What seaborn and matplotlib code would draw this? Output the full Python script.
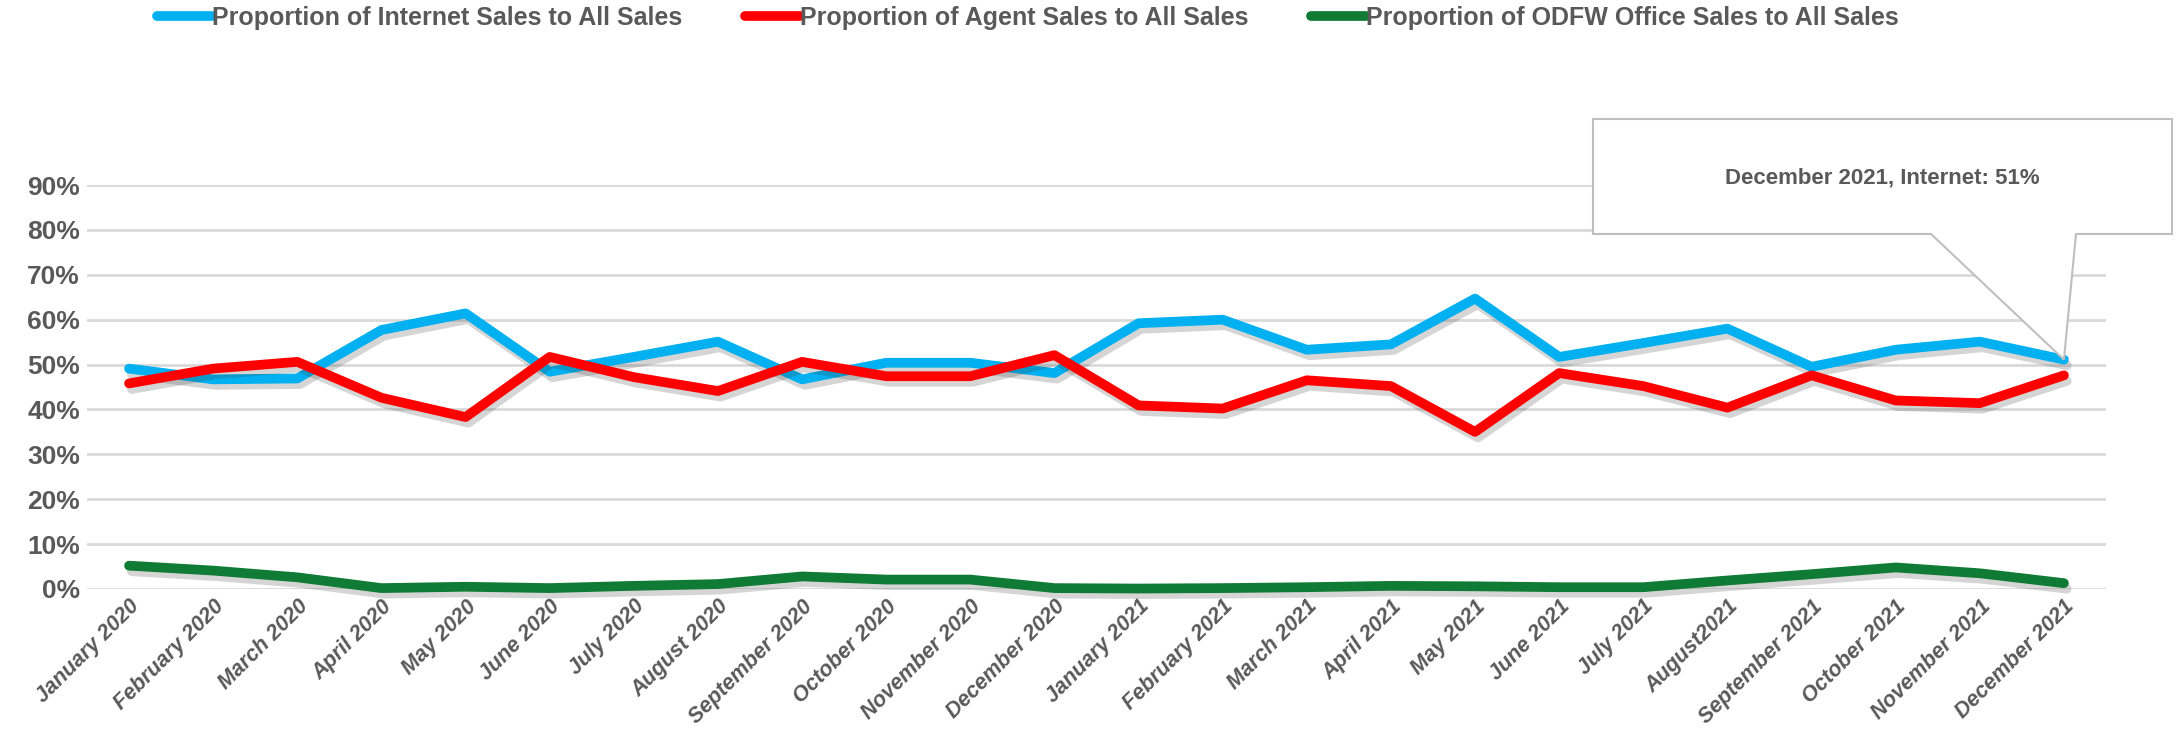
import numpy as np
import pandas as pd
import matplotlib
matplotlib.use("Agg")
import matplotlib.pyplot as plt
import matplotlib.patheffects as pe
from matplotlib.patches import Polygon
import seaborn as sns

months = ["January 2020", "February 2020", "March 2020", "April 2020", "May 2020", "June 2020",
          "July 2020", "August 2020", "September 2020", "October 2020", "November 2020", "December 2020",
          "January 2021", "February 2021", "March 2021", "April 2021", "May 2021", "June 2021",
          "July 2021", "August2021", "September 2021", "October 2021", "November 2021", "December 2021"]

internet = [49.1, 46.7, 46.9, 57.7, 61.4, 48.4, 51.7, 55.1, 46.7, 50.4, 50.4, 48.1,
            59.2, 60.0, 53.3, 54.5, 64.7, 51.7, 54.8, 58.0, 49.5, 53.3, 55.1, 51.1]
agent = [45.8, 49.1, 50.6, 42.6, 38.3, 51.7, 47.2, 44.1, 50.6, 47.4, 47.4, 52.1,
         40.9, 40.2, 46.5, 45.2, 35.0, 48.1, 45.2, 40.4, 47.6, 42.0, 41.4, 47.6]
office = [5.2, 4.1, 2.6, 0.2, 0.5, 0.2, 0.7, 1.1, 2.8, 2.1, 2.1, 0.2,
          0.1, 0.2, 0.4, 0.7, 0.6, 0.4, 0.4, 1.9, 3.3, 4.8, 3.5, 1.3]

series_names = ["Proportion of Internet Sales to All Sales",
                "Proportion of Agent Sales to All Sales",
                "Proportion of ODFW Office Sales to All Sales"]
colors = ["#00B0F0", "#FF0000", "#0F7B34"]
yticks = [0, 10, 20, 30, 40, 50, 60, 70, 80, 90]
callout_text = "December 2021, Internet: 51%"

rows = []
for name, vals in zip(series_names, [internet, agent, office]):
    for i, (m, v) in enumerate(zip(months, vals)):
        rows.append({"idx": i, "month": m, "value": v / 100.0, "series": name})
df = pd.DataFrame(rows)

sns.set_theme(style="white")
plt.rcParams['font.family'] = ['Liberation Sans', 'DejaVu Sans']
gray = "#595959"

fig = plt.figure(figsize=(21.77, 7.37), dpi=100)
ax = fig.add_axes([87 / 2177, 1 - 589 / 737, (2106 - 87) / 2177, (589 - 185) / 737])

sns.lineplot(data=df, x="idx", y="value", hue="series", palette=colors, linewidth=7,
             sort=False, ax=ax, legend=True, zorder=3)
for ln in ax.get_lines():
    ln.set_path_effects([pe.SimpleLineShadow(offset=(2, -4), alpha=0.22, shadow_color="#444444"),
                         pe.Normal()])
    ln.set_solid_capstyle("round")
    ln.set_clip_on(False)

ax.set_xlim(-0.5, len(months) - 0.5)
ax.set_ylim(0, 0.9)
ax.set_yticks([t / 100 for t in yticks])
ax.set_yticklabels([f"{t}%" for t in yticks], fontsize=19, fontweight="bold", color=gray)
ax.set_xticks(range(len(months)))
ax.set_xticklabels(months, rotation=45, ha="right", rotation_mode="anchor",
                   fontsize=15.5, fontweight="bold", fontstyle="italic", color=gray)
ax.tick_params(axis="both", length=0)
ax.tick_params(axis="x", pad=5)
ax.tick_params(axis="y", pad=5)
ax.grid(axis="y", color="#D9D9D9", linewidth=2)
ax.grid(axis="x", visible=False)
ax.set_axisbelow(True)
for s in ax.spines.values():
    s.set_visible(False)
ax.set_xlabel("")
ax.set_ylabel("")

# legend
handles, labels = ax.get_legend_handles_labels()
ax.legend_.remove()
leg = fig.legend(handles, labels, loc="center left", bbox_to_anchor=(157 / 2177, 1 - 18 / 737),
                 ncol=3, frameon=False, fontsize=18, handlelength=2.2, handletextpad=0.0,
                 columnspacing=2.5, borderpad=0, borderaxespad=0)
for t in leg.get_texts():
    t.set_color(gray)
    t.set_fontweight("bold")
for h in leg.legend_handles:
    h.set_linewidth(7)
    h.set_path_effects([])

# callout
fig.canvas.draw()
tip_disp = ax.transData.transform((len(months) - 1, internet[-1] / 100.0))
tip = fig.transFigure.inverted().transform(tip_disp)
bx0, bx1 = 1593 / 2177, 2172 / 2177
by0, by1 = 1 - 234 / 737, 1 - 119 / 737
p0, p1 = 1931 / 2177, 2076 / 2177
poly = Polygon([(bx0, by1), (bx1, by1), (bx1, by0), (p1, by0), tuple(tip), (p0, by0), (bx0, by0)],
               closed=True, transform=fig.transFigure, facecolor="white", edgecolor="#BFBFBF",
               linewidth=1.5, zorder=10)
fig.patches.append(poly)
fig.text((bx0 + bx1) / 2, 1 - 178 / 737, callout_text, ha="center", va="center",
         fontsize=16, fontweight="bold", color=gray, zorder=11)

fig.savefig("out.png", dpi=100, facecolor="white")
